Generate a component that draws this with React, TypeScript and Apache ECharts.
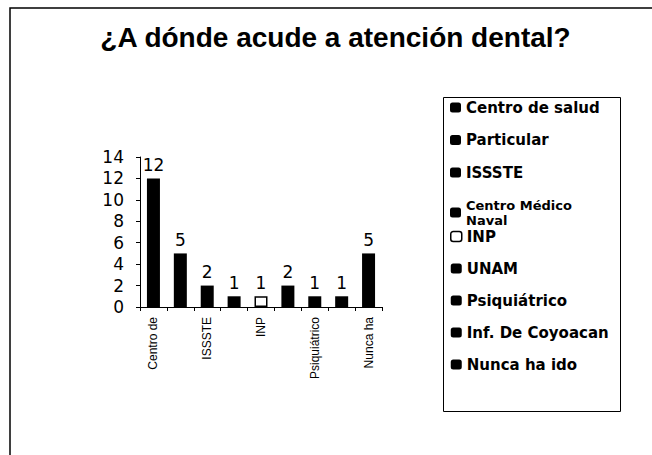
import React, { useEffect, useRef } from "react";
import * as echarts from "echarts";

const titleText = "¿A dónde acude a atención dental?";
const categories = [
  "Centro de salud",
  "Particular",
  "ISSSTE",
  "Centro Médico Naval",
  "INP",
  "UNAM",
  "Psiquiátrico",
  "Inf. De Coyoacan",
  "Nunca ha ido",
];
const values = [12, 5, 2, 1, 1, 2, 1, 1, 5];
const axisLabels = [
  "Centro de",
  "Particular",
  "ISSSTE",
  "Centro Médico",
  "INP",
  "UNAM",
  "Psiquiátrico",
  "Inf. De",
  "Nunca ha",
];
const legendLabels = [
  "Centro de salud",
  "Particular",
  "ISSSTE",
  "Centro Médico\nNaval",
  "INP",
  "UNAM",
  "Psiquiátrico",
  "Inf. De Coyoacan",
  "Nunca ha ido",
];
const fills = ["#000", "#000", "#000", "#000", "#fff", "#000", "#000", "#000", "#000"];
const yMin = 0;
const yMax = 14;
const yStep = 2;

export default function App() {
  const ref = useRef<HTMLDivElement>(null);
  useEffect(() => {
    document.body.style.margin = "0";
    if (!ref.current) return;
    const chart = echarts.init(ref.current, null, { renderer: "svg" });
    const legendText = {
      fontFamily: "DejaVu Sans",
      fontWeight: "bold" as const,
      fontSize: 15,
      lineHeight: 15,
      color: "#000",
    };
    const legendItem = (i: number) => {
      const it: any = { name: categories[i] };
      if (fills[i] === "#fff") {
        it.itemStyle = { color: "#fff", borderColor: "#000", borderWidth: 1.5 };
      }
      if (legendLabels[i].includes("\n")) {
        it.textStyle = { fontSize: 13, lineHeight: 15 };
      }
      return it;
    };
    const legendCommon = {
      orient: "vertical" as const,
      left: 450,
      padding: 0,
      itemWidth: 11,
      itemHeight: 10,
      icon: "roundRect",
      textStyle: legendText,
      formatter: (name: string) => legendLabels[categories.indexOf(name)],
      selectedMode: false,
    };
    chart.setOption({
      animation: false,
      backgroundColor: "#fff",
      graphic: [
        {
          type: "polyline",
          shape: { points: [[10, 455], [10, 8], [652, 8]] },
          style: { stroke: "#000", lineWidth: 1.5, fill: "none" },
        },
        {
          type: "rect",
          shape: { x: 443.5, y: 97.5, width: 177, height: 314 },
          style: { stroke: "#000", lineWidth: 1, fill: "none" },
        },
        {
          type: "text",
          x: 335.5,
          y: 37,
          style: {
            text: titleText,
            font: 'bold 28px "Liberation Sans"',
            textAlign: "center",
            textVerticalAlign: "middle",
            fill: "#000",
          },
        },
      ],
      legend: [
        { ...legendCommon, top: 100, itemGap: 17.5, data: [0, 1, 2, 3].map(legendItem) },
        { ...legendCommon, top: 229, itemGap: 17, data: [4, 5, 6, 7, 8].map(legendItem) },
      ],
      grid: { left: 140, right: 270, top: 157, bottom: 148, containLabel: false },
      xAxis: {
        type: "category",
        data: categories,
        axisLine: { show: true, lineStyle: { color: "#000", width: 1 } },
        axisTick: { show: true, interval: 0, length: 4, lineStyle: { color: "#000" } },
        axisLabel: {
          interval: 1,
          rotate: 90,
          margin: 10,
          formatter: (_v: string, i: number) => axisLabels[i],
          fontFamily: "Liberation Sans",
          fontSize: 12,
          color: "#000",
        },
        splitLine: { show: false },
      },
      yAxis: {
        type: "value",
        min: yMin,
        max: yMax,
        interval: yStep,
        axisLine: { show: true, lineStyle: { color: "#000", width: 1 } },
        axisTick: { show: true, length: 4, lineStyle: { color: "#000" } },
        axisLabel: { margin: 16, fontFamily: "DejaVu Sans", fontSize: 17, color: "#000" },
        splitLine: { show: false },
      },
      series: categories.map((name, i) => ({
        type: "bar",
        name,
        data: values.map((v, j) => (j === i ? v : "-")),
        barWidth: 13,
        barGap: "-100%",
        itemStyle: {
          color: fills[i],
          borderColor: "#000",
          borderWidth: fills[i] === "#fff" ? 1.5 : 0,
        },
        label: {
          show: true,
          position: "top",
          distance: 5,
          fontFamily: "DejaVu Sans",
          fontSize: 17,
          color: "#000",
        },
      })),
    });
    return () => chart.dispose();
  }, []);
  return <div ref={ref} style={{ width: 652, height: 455 }} />;
}
